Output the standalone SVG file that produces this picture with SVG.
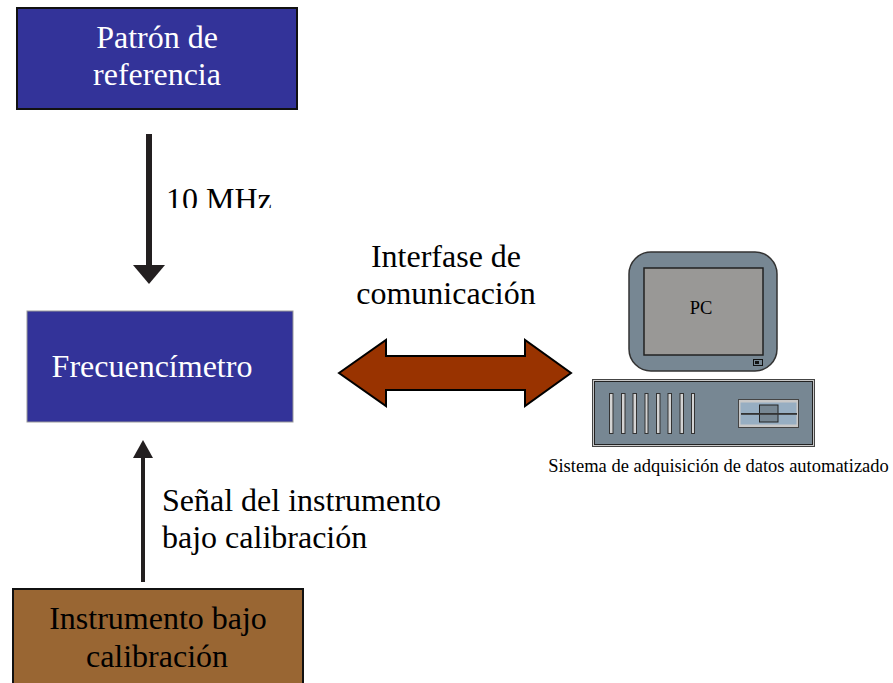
<svg xmlns="http://www.w3.org/2000/svg" width="893" height="683" viewBox="0 0 893 683">
<style>
text{font-family:"Liberation Serif","Times New Roman",serif;text-anchor:middle;fill:#000}
.l{font-size:32px}
.w{fill:#fff}
.s{text-anchor:start}
.slot{fill:#d4d4d4;stroke:#333;stroke-width:1}
</style>
<defs><clipPath id="c10"><rect x="150" y="170" width="130" height="38"/></clipPath></defs>
<rect width="893" height="683" fill="#fff"/>
<g id="connectors">
<rect x="146" y="134" width="6" height="134" fill="#231f20"/>
<polygon points="133,265 165,265 149,284" fill="#231f20"/>
<rect x="141" y="458" width="4" height="124" fill="#231f20"/>
<polygon points="133,458 153,458 143,440" fill="#231f20"/>
<polygon points="339,373 386,340 386,356 525,356 525,340 571,373 525,406 525,390 386,390 386,406" fill="#993300" stroke="#000" stroke-width="2"/>
</g>
<g id="patron">
<rect x="17" y="8" width="280" height="101" fill="#333399" stroke="#111" stroke-width="2"/>
<text class="l w" x="157" y="48">Patrón de</text>
<text class="l w" x="157" y="85">referencia</text>
</g>
<g id="frecuencimetro">
<rect x="27" y="311" width="266" height="111" fill="#333399" stroke="#999" stroke-width="1"/>
<text class="l w" x="152" y="377">Frecuencímetro</text>
</g>
<g id="instrumento">
<rect x="13" y="589" width="290" height="100" fill="#996633" stroke="#111" stroke-width="2"/>
<text class="l" x="158" y="629">Instrumento bajo</text>
<text class="l" x="157" y="667">calibración</text>
</g>
<g id="pc">
<rect x="629" y="252" width="148" height="119" rx="22" fill="#778793" stroke="#333" stroke-width="1.5"/>
<rect x="644" y="268" width="119" height="87" fill="#999896" stroke="#222" stroke-width="1.5"/>
<text x="701" y="314" font-size="18.500">PC</text>
<rect x="753.500" y="359.500" width="9" height="6" fill="#778793" stroke="#111" stroke-width="1"/>
<rect x="755" y="361" width="4" height="3" fill="#111"/>
<rect x="592.500" y="379.500" width="222" height="67" fill="#c8c8c8" stroke="#444" stroke-width="1"/>
<rect x="594.500" y="381.500" width="218" height="63" fill="#778793" stroke="#222" stroke-width="1"/>
<rect class="slot" x="609.500" y="393.500" width="3.500" height="40"/>
<rect class="slot" x="621.500" y="393.500" width="3.500" height="40"/>
<rect class="slot" x="633" y="393.500" width="3.500" height="40"/>
<rect class="slot" x="645" y="393.500" width="3" height="40"/>
<rect class="slot" x="656.500" y="393.500" width="3.500" height="40"/>
<rect class="slot" x="668" y="393.500" width="3.500" height="40"/>
<rect class="slot" x="680" y="393.500" width="3.500" height="40"/>
<rect class="slot" x="691.500" y="393.500" width="3" height="40"/>
<rect x="738.500" y="399.500" width="60" height="28" fill="#c8c8c8" stroke="#444" stroke-width="1"/>
<rect x="740.500" y="402.500" width="56" height="22" fill="#97aec2"/>
<rect x="759.500" y="405" width="18.500" height="17" fill="#778793" stroke="#222" stroke-width="1"/>
<rect x="741" y="413" width="56" height="1.800" fill="#333"/>
</g>
<g id="labels">
<text class="l s" x="166" y="210" clip-path="url(#c10)">10 MHz</text>
<text class="l" x="446" y="267">Interfase de</text>
<text class="l" x="446" y="304">comunicación</text>
<text class="l s" x="162" y="511">Señal del instrumento</text>
<text class="l s" x="162" y="548">bajo calibración</text>
<text x="718.500" y="472" font-size="18.500">Sistema de adquisición de datos automatizado</text>
</g>
</svg>
